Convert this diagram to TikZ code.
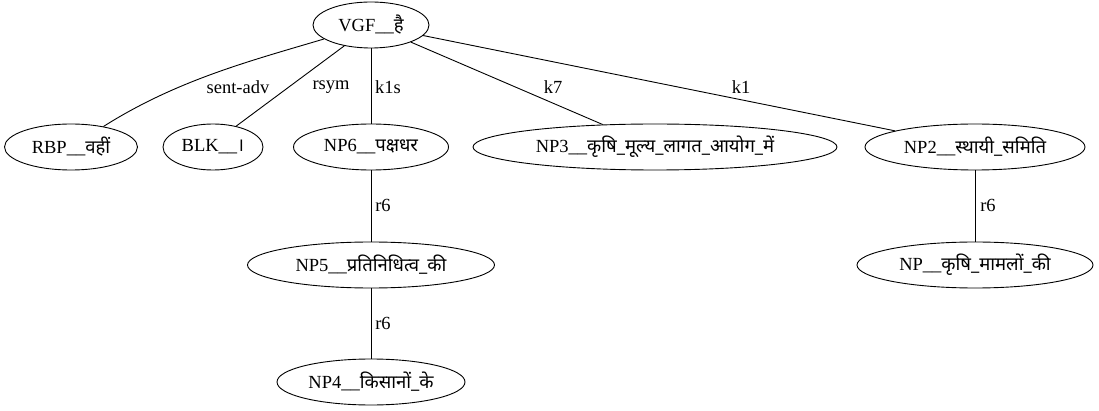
\documentclass[tikz,border=0pt]{standalone}
\usepackage{fontspec}
\setmainfont{Liberation Serif}
\newfontfamily\devfont[Script=Devanagari]{Noto Sans}
\usetikzlibrary{shapes.geometric}
\newcommand{\dv}[1]{{\devfont #1}}
\tikzset{
  tok/.style={ellipse, draw, line width=0.9pt, inner sep=0pt, minimum height=46pt, font=\fontsize{18.5}{21}\selectfont},
  rel/.style={inner sep=1pt, font=\fontsize{18.5}{21}\selectfont},
  dep/.style={line width=0.9pt}
}
\begin{document}
\begin{tikzpicture}[x=1pt,y=-1pt]
\useasboundingbox (0,0) rectangle (1099,411);
% tokens
\node[tok, minimum width=116pt] (vgf) at (371,25) {VGF\_\_\dv{है}};
\node[tok, minimum width=133pt] (rbp) at (71,147) {RBP\_\_\dv{वहीं}};
\node[tok, minimum width=100pt] (blk) at (213,147) {BLK\_\_\dv{।}};
\node[tok, minimum width=155pt] (np6) at (371,147) {NP6\_\_\dv{पक्षधर}};
\node[tok, minimum width=364pt] (np3) at (655,147) {NP3\_\_\dv{कृषि\_मूल्य\_लागत\_आयोग\_में}};
\node[tok, minimum width=220pt] (np2) at (975,147) {NP2\_\_\dv{स्थायी\_समिति}};
\node[tok, minimum width=247pt] (np5) at (371,265) {NP5\_\_\dv{प्रतिनिधित्व\_की}};
\node[tok, minimum width=188pt] (np4) at (371,382) {NP4\_\_\dv{किसानों\_के}};
\node[tok, minimum width=236pt] (np) at (975,265) {NP\_\_\dv{कृषि\_मामलों\_की}};
% bend points of the sent-adv arc
\coordinate (sa1) at (250,61);
\coordinate (sa2) at (177,80);
% dependencies
\draw[dep] (vgf) .. controls (sa1) and (sa2) .. (rbp);
\draw[dep] (vgf.218) -- (blk.42);
\draw[dep] (vgf) -- (np6);
\draw[dep] (vgf) -- (np3);
\draw[dep] (vgf) -- (np2);
\draw[dep] (np6) -- (np5);
\draw[dep] (np5) -- (np4);
\draw[dep] (np2) -- (np);
% relation labels
\node[rel] (l1) at (238,87) {sent-adv};
\node[rel] (l2) at (331,87) {rsym};
\node[rel] (l3) at (388,87) {k1s};
\node[rel] (l4) at (553,87) {k7};
\node[rel] (l5) at (741,87) {k1};
\node[rel] (l6) at (383,205) {r6};
\node[rel] (l7) at (383,323) {r6};
\node[rel] (l8) at (988,205) {r6};
\end{tikzpicture}
\end{document}
